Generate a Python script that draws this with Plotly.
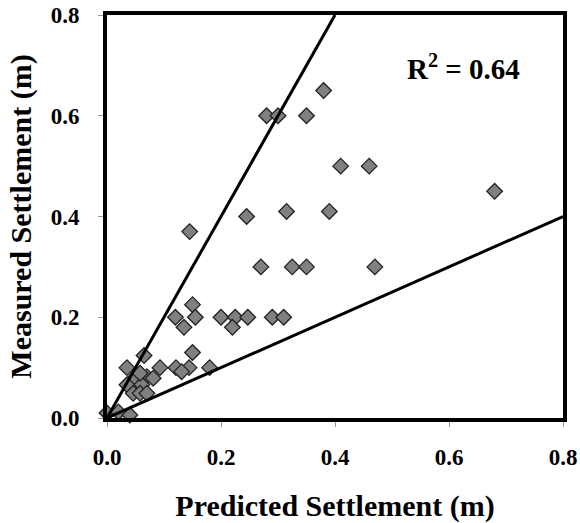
import plotly.graph_objects as go

predicted = [0.38, 0.28, 0.30, 0.35, 0.41, 0.46, 0.68, 0.245, 0.315, 0.39, 0.145,
             0.27, 0.325, 0.35, 0.47,
             0.15, 0.12, 0.155, 0.135, 0.20, 0.225, 0.247, 0.22, 0.29, 0.31,
             0.15, 0.065, 0.035, 0.093, 0.121, 0.144, 0.131, 0.18,
             0.048, 0.070, 0.081, 0.035, 0.061, 0.046, 0.058, 0.070, 0.058,
             0.0, 0.02, 0.04]
measured = [0.65, 0.60, 0.60, 0.60, 0.50, 0.50, 0.45, 0.40, 0.41, 0.41, 0.37,
            0.30, 0.30, 0.30, 0.30,
            0.225, 0.20, 0.20, 0.18, 0.20, 0.20, 0.20, 0.18, 0.20, 0.20,
            0.13, 0.124, 0.10, 0.10, 0.10, 0.10, 0.092, 0.10,
            0.079, 0.082, 0.079, 0.066, 0.066, 0.049, 0.049, 0.049, 0.089,
            0.01, 0.012, 0.006]

upper_x = [0.0, 0.4]
upper_y = [0.0, 0.8]
lower_x = [0.0, 0.8]
lower_y = [0.0, 0.4]

tick_vals = [0.0, 0.2, 0.4, 0.6, 0.8]
tick_text = ["0.0", "0.2", "0.4", "0.6", "0.8"]

font = "Liberation Serif"

fig = go.Figure()
fig.add_trace(go.Scatter(x=predicted, y=measured, mode="markers",
                         marker=dict(symbol="diamond", size=12, color="#808080",
                                     line=dict(color="#222222", width=1.3)),
                         showlegend=False, cliponaxis=False))
fig.add_trace(go.Scatter(x=upper_x, y=upper_y, mode="lines",
                         line=dict(color="black", width=3), showlegend=False))
fig.add_trace(go.Scatter(x=lower_x, y=lower_y, mode="lines",
                         line=dict(color="black", width=3), showlegend=False))

axis_common = dict(range=[0, 0.8], tickvals=tick_vals, ticktext=tick_text,
                   showgrid=False, zeroline=False, showline=True, mirror=True,
                   linecolor="black", linewidth=4, ticks="outside", ticklen=5,
                   tickcolor="#999999", tickwidth=1, automargin=False,
                   ticklabeloverflow="allow",
                   tickfont=dict(family=font, size=23, color="black", weight="bold"))

fig.update_layout(
    width=580, height=523,
    margin=dict(l=107, r=17, t=15, b=105, autoexpand=False),
    paper_bgcolor="white", plot_bgcolor="white",
    xaxis=dict(**axis_common, ticklabelstandoff=10,
               title=dict(text="<b>Predicted Settlement (m)</b>", standoff=30,
                          font=dict(family=font, size=30, color="black"))),
    yaxis=dict(**axis_common, ticklabelstandoff=14,
               title=dict(text="<b>Measured Settlement (m)</b>", standoff=11,
                          font=dict(family=font, size=30, color="black"))),
    annotations=[dict(x=0.625, y=0.697, xref="x", yref="y", showarrow=False,
                      text="<b>R<sup>2</sup> = 0.64</b>",
                      font=dict(family=font, size=29, color="black"))],
)

fig.write_html("out.html", config={"displayModeBar": False},
               post_script="document.body.style.margin='0';document.body.style.overflow='hidden';")
